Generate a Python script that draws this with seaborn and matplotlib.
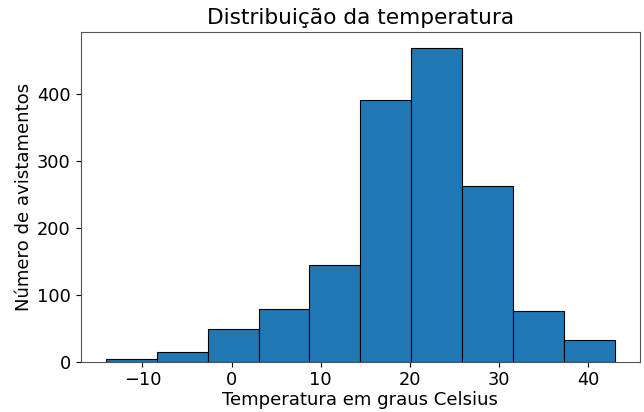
import matplotlib
matplotlib.use("Agg")
import matplotlib.pyplot as plt
import seaborn as sns
import numpy as np
import pandas as pd

bin_edges = [-14.1, -8.39, -2.68, 3.03, 8.74, 14.45, 20.16, 25.87, 31.58, 37.29, 43.0]
counts = [4, 14, 49, 79, 144, 391, 469, 263, 76, 32]
centers = [(a + b) / 2 for a, b in zip(bin_edges[:-1], bin_edges[1:])]

df = pd.DataFrame({"temp": centers, "n": counts})

fig, ax = plt.subplots(figsize=(6.44, 4.12), dpi=100)
sns.histplot(data=df, x="temp", weights="n", bins=bin_edges, color="#1f77b4",
             edgecolor="black", linewidth=0.8, alpha=1.0, ax=ax)
ax.set_title("Distribuição da temperatura", fontsize=15.6)
ax.set_xlabel("Temperatura em graus Celsius", fontsize=13.1, labelpad=1)
ax.set_ylabel("Número de avistamentos", fontsize=13.1, labelpad=3)
ax.tick_params(labelsize=12.8)
ax.set_xticks([-10, 0, 10, 20, 30, 40])
ax.set_yticks([0, 100, 200, 300, 400])
ax.set_ylim(0, 493)
for s in ax.spines.values():
    s.set_color("#555555")
fig.subplots_adjust(left=0.125, right=0.994, top=0.922, bottom=0.122)
fig.savefig("out.png", dpi=100)
